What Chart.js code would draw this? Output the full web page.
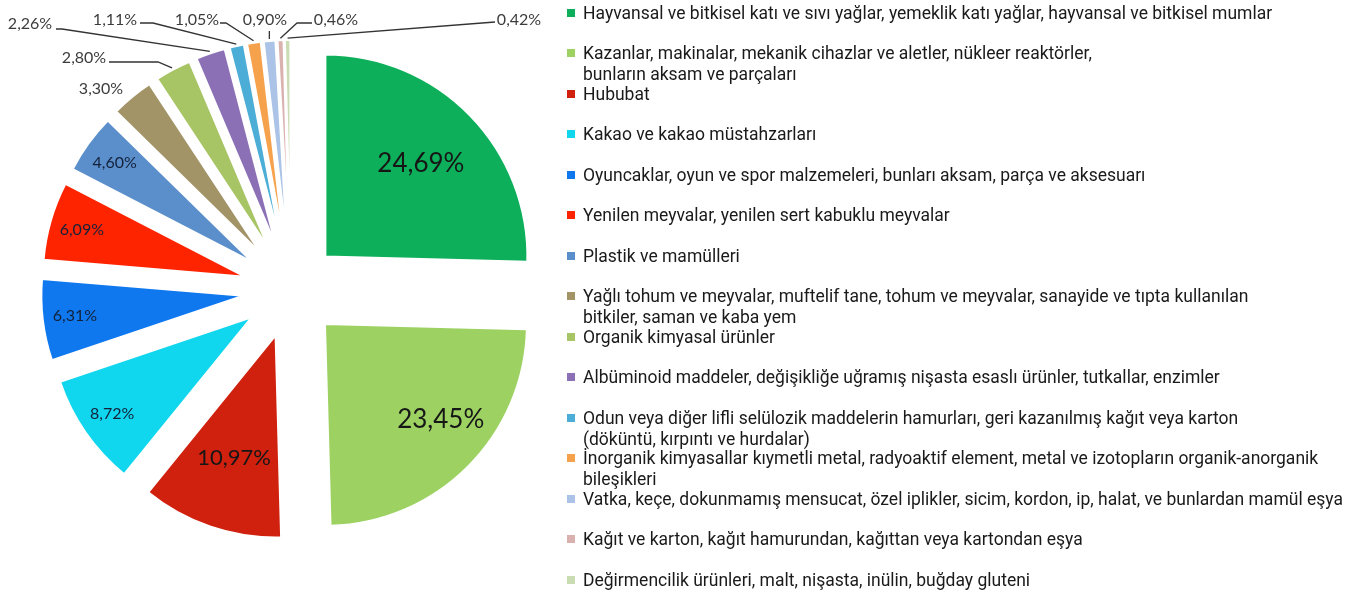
<!DOCTYPE html>
<html>
<head>
<meta charset="utf-8">
<script src="https://cdn.jsdelivr.net/npm/chart.js@4.4.0/dist/chart.umd.min.js"></script>
<style>
  html, body { margin: 0; padding: 0; background: #fff; }
  body { width: 1358px; height: 596px; position: relative; overflow: hidden; }
  #pie { position: absolute; left: 0; top: 0; }
  #legend { position: absolute; left: 567px; top: 0; font-family: Roboto, sans-serif; }
  .item { position: absolute; left: 0; white-space: nowrap; font-size: 17.5px; line-height: 21px; color: #1a1a1a; padding-left: 16px; }
  .item i { position: absolute; left: 0; top: 6px; width: 8px; height: 8px; }
</style>
</head>
<body>
<canvas id="pie" width="582" height="580"></canvas>
<div id="legend"></div>
<script>
// categories (wrapped ones as arrays of lines, like the source legend)
const categories = [
  'Hayvansal ve bitkisel katı ve sıvı yağlar, yemeklik katı yağlar, hayvansal ve bitkisel mumlar',
  ['Kazanlar, makinalar, mekanik cihazlar ve aletler, nükleer reaktörler,', 'bunların aksam ve parçaları'],
  'Hububat',
  'Kakao ve kakao müstahzarları',
  'Oyuncaklar, oyun ve spor malzemeleri, bunları aksam, parça ve aksesuarı',
  'Yenilen meyvalar, yenilen sert kabuklu meyvalar',
  'Plastik ve mamülleri',
  ['Yağlı tohum ve meyvalar, muftelif tane, tohum ve meyvalar, sanayide ve tıpta kullanılan', 'bitkiler, saman ve kaba yem'],
  'Organik kimyasal ürünler',
  'Albüminoid maddeler, değişikliğe uğramış nişasta esaslı ürünler, tutkallar, enzimler',
  ['Odun veya diğer lifli selülozik maddelerin hamurları, geri kazanılmış kağıt veya karton', '(döküntü, kırpıntı ve hurdalar)'],
  ['İnorganik kimyasallar kıymetli metal, radyoaktif element, metal ve izotopların organik-anorganik', 'bileşikleri'],
  'Vatka, keçe, dokunmamış mensucat, özel iplikler, sicim, kordon, ip, halat, ve bunlardan mamül eşya',
  'Kağıt ve karton, kağıt hamurundan, kağıttan veya kartondan eşya',
  'Değirmencilik ürünleri, malt, nişasta, inülin, buğday gluteni'
];
const shares = [24.69, 23.45, 10.97, 8.72, 6.31, 6.09, 4.60, 3.30, 2.80, 2.26, 1.11, 1.05, 0.90, 0.46, 0.42];
const colors = [
  '#0daf5a', '#9dd263', '#d0200e', '#10d6ee', '#0f78ee', '#ff2400', '#5b8fcb', '#a39468',
  '#a8c566', '#8b70b6', '#4caed6', '#f6a24c', '#aac3e6', '#d9b2b0', '#cadcb2'
];

const PIE_RADIUS = 202;
const PIE_SHIFT = 48;   // how far each slice is pulled out

// label layout: inside labels (radius fraction, font size, nudge)
const insideLayout = [
  { f: 0.66, size: 26 }, { f: 0.74, size: 26, dx: 10, dy: -10 }, { f: 0.64, size: 22 },
  { f: 0.84, size: 16 }, { f: 0.84, size: 16 }, { f: 0.84, size: 16 }, { f: 0.84, size: 16 }
];
// outside labels: text centre and leader points before reaching the slice
const outsideLayout = {
  7:  { x: 101, y: 89, path: null },
  8:  { x: 84,  y: 58, path: [[109, 62], [158, 62]] },
  9:  { x: 30,  y: 24, path: [[56, 29], [62, 29]] },
  10: { x: 115, y: 20, path: [[140, 23], [153, 23]] },
  11: { x: 197, y: 20, path: [[220, 23], [226, 23]] },
  12: { x: 265, y: 20, path: [['edge', 31]] },
  13: { x: 336, y: 20, path: [[312, 23], [297, 23]] },
  14: { x: 519, y: 20, path: [[495, 22]] }
};

const pct = v => v.toFixed(2).replace('.', ',') + '%';

// Chart.js grows and narrows pulled-out arcs a bit; undo that so every slice keeps its true size
const evenSlices = {
  id: 'evenSlices',
  afterDatasetUpdate(chart, args) {
    args.meta.data.forEach(arc => {
      const extra = (arc.options.offset || 0) / 4 * (1 - Math.sin(Math.min(Math.PI, arc.circumference)));
      arc.outerRadius = PIE_RADIUS - extra;
      const widen = extra / Math.PI / PIE_RADIUS / 2;
      arc.startAngle -= widen;
      arc.endAngle += widen;
    });
  }
};

const sliceLabels = {
  id: 'sliceLabels',
  afterDatasetsDraw(chart) {
    const ctx = chart.ctx;
    const arcs = chart.getDatasetMeta(0).data;
    ctx.save();
    ctx.textAlign = 'center';
    ctx.textBaseline = 'middle';
    arcs.forEach((arc, i) => {
      const mid = (arc.startAngle + arc.endAngle) / 2;
      const cos = Math.cos(mid), sin = Math.sin(mid);
      const text = pct(shares[i]);
      const inside = insideLayout[i];
      if (inside) {
        const d = PIE_SHIFT + inside.f * PIE_RADIUS;
        ctx.font = inside.size + 'px Lato, "Open Sans", sans-serif';
        ctx.fillStyle = i < 3 ? '#161616' : '#14213a';
        ctx.fillText(text, arc.x + cos * d + (inside.dx || 0), arc.y + sin * d + (inside.dy || 0));
        return;
      }
      const out = outsideLayout[i];
      if (!out) return;
      const d = PIE_SHIFT + PIE_RADIUS + 2;
      const ex = arc.x + cos * d, ey = arc.y + sin * d;
      if (out.path) {
        ctx.beginPath();
        out.path.forEach(([px, py], k) => {
          const x = px === 'edge' ? ex : px;
          k ? ctx.lineTo(x, py) : ctx.moveTo(x, py);
        });
        ctx.lineTo(ex, ey);
        ctx.strokeStyle = '#333333';
        ctx.lineWidth = 1.3;
        ctx.stroke();
      }
      ctx.font = '16px Lato, "Open Sans", sans-serif';
      ctx.fillStyle = '#3c3c3c';
      ctx.fillText(text, out.x, out.y);
    });
    ctx.restore();
  }
};

const htmlLegend = {
  id: 'htmlLegend',
  afterUpdate(chart) {
    const box = document.getElementById('legend');
    box.innerHTML = '';
    chart.data.labels.forEach((label, i) => {
      const lines = Array.isArray(label) ? label : [label];
      const item = document.createElement('div');
      item.className = 'item';
      item.style.top = (13 + 40.5 * i - 10.5) + 'px';
      const mark = document.createElement('i');
      mark.style.background = chart.data.datasets[0].backgroundColor[i];
      item.appendChild(mark);
      lines.forEach((line, k) => {
        if (k) item.appendChild(document.createElement('br'));
        item.appendChild(document.createTextNode(line));
      });
      box.appendChild(item);
    });
  }
};

new Chart(document.getElementById('pie'), {
  type: 'pie',
  data: {
    labels: categories,
    datasets: [{
      data: shares,
      backgroundColor: colors,
      borderColor: '#ffffff',
      borderWidth: 2,
      offset: PIE_SHIFT * 4
    }]
  },
  options: {
    responsive: false,
    animation: false,
    radius: PIE_RADIUS,
    layout: { padding: 0 },
    plugins: {
      legend: { display: false },
      tooltip: { enabled: false }
    }
  },
  plugins: [evenSlices, sliceLabels, htmlLegend]
});
</script>
</body>
</html>
